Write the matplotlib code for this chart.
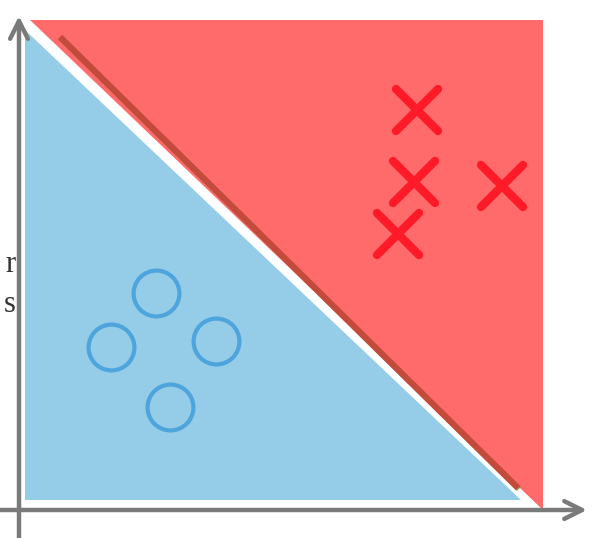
import matplotlib.pyplot as plt
from matplotlib.patches import Polygon
from matplotlib.markers import MarkerStyle

# data in pixel-like units, origin at the axes crossing, y pointing up
circle_x = [137, 92, 197, 151]
circle_y = [217, 163, 169, 103]
cross_x = [398, 395, 483, 379]
cross_y = [400, 328, 324, 276]

blue_region = [(6, 10), (6, 480), (502, 10)]
red_region = [(11, 490), (524, 490), (524, 0)]
boundary_x = [41, 499]
boundary_y = [473, 22]

fig = plt.figure(figsize=(6.10, 5.38), dpi=100)
ax = fig.add_axes([0, 0, 1, 1])
ax.set_xlim(-19, 591)
ax.set_ylim(-28, 510)
ax.axis('off')

ax.add_patch(Polygon(red_region, closed=True, facecolor='#ff6b6b', edgecolor='none'))
ax.add_patch(Polygon(blue_region, closed=True, facecolor='#95cde9', edgecolor='none'))

# decision boundary (olive shadow under a brick-red line)
ax.plot([x + 1 for x in boundary_x], [y - 1 for y in boundary_y],
        color='#6f8a3a', lw=4, solid_capstyle='butt', alpha=0.8)
ax.plot(boundary_x, boundary_y, color='#c44a3c', lw=4.5, solid_capstyle='butt')

ax.plot(circle_x, circle_y, linestyle='none', marker='o', markersize=33,
        markerfacecolor='none', markeredgecolor='#4ea4dc', markeredgewidth=3)
ax.plot(cross_x, cross_y, linestyle='none',
        marker=MarkerStyle('x', capstyle='round'), markersize=30,
        markeredgecolor='#ff1a28', markeredgewidth=6)

# axes arrows
arrow = dict(arrowstyle='->', color='#7a7a7a', lw=3.2, mutation_scale=32,
             shrinkA=0, shrinkB=0)
ax.annotate('', xy=(0, 494), xytext=(0, -30), arrowprops=arrow)
ax.annotate('', xy=(568, 0), xytext=(-20, 0), arrowprops=arrow)

ax.text(-3, 245, 'r', ha='right', va='center', fontsize=22,
        family='Liberation Serif', color='#333333')
ax.text(-3, 205, 's', ha='right', va='center', fontsize=22,
        family='Liberation Serif', color='#333333')

fig.savefig('out.png', dpi=100)
